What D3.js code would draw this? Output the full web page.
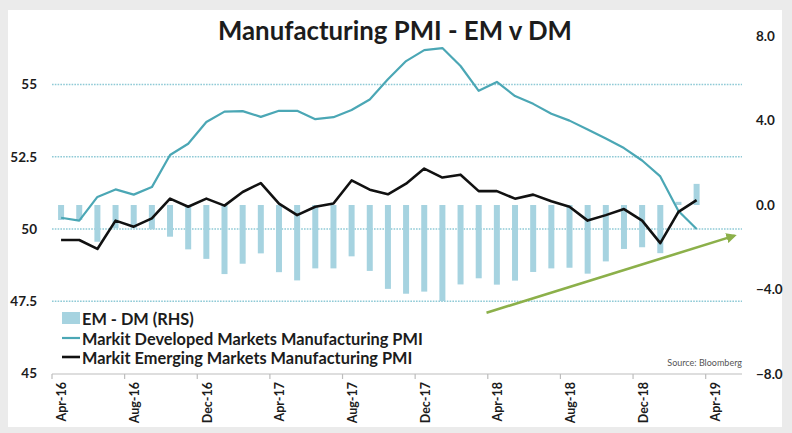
<!DOCTYPE html>
<html>
<head>
<meta charset="utf-8">
<script src="https://cdn.jsdelivr.net/npm/d3@7"></script>
<style>
  html, body { margin: 0; padding: 0; background: #ececec; }
  svg { display: block; }
  text { font-family: Lato, "Open Sans", "DejaVu Sans", sans-serif; }
</style>
</head>
<body>
<svg id="chart" width="792" height="433"></svg>
<script>
// Monthly categories on the x axis (Apr-16 .. May-19)
const months = [
  "Apr-16","May-16","Jun-16","Jul-16","Aug-16","Sep-16","Oct-16","Nov-16","Dec-16",
  "Jan-17","Feb-17","Mar-17","Apr-17","May-17","Jun-17","Jul-17","Aug-17","Sep-17",
  "Oct-17","Nov-17","Dec-17","Jan-18","Feb-18","Mar-18","Apr-18","May-18","Jun-18",
  "Jul-18","Aug-18","Sep-18","Oct-18","Nov-18","Dec-18","Jan-19","Feb-19","Mar-19",
  "Apr-19","May-19"
];
const tickMonths = ["Apr-16","Aug-16","Dec-16","Apr-17","Aug-17","Dec-17","Apr-18","Aug-18","Dec-18","Apr-19"];

// Markit Developed Markets Manufacturing PMI (Apr-16 .. Mar-19)
const dmPmi = [
  50.39, 50.29, 51.11, 51.37, 51.19, 51.45, 52.56, 52.95, 53.70, 54.06,
  54.08, 53.88, 54.09, 54.09, 53.80, 53.87, 54.12, 54.48, 55.18, 55.81,
  56.19, 56.26, 55.64, 54.78, 55.09, 54.60, 54.33, 53.99, 53.75, 53.44,
  53.13, 52.80, 52.37, 51.82, 50.62, 50.00
];
// Markit Emerging Markets Manufacturing PMI (Apr-16 .. Mar-19)
const emPmi = [
  49.62, 49.62, 49.31, 50.29, 50.08, 50.37, 51.05, 50.77, 51.05, 50.81,
  51.28, 51.59, 50.88, 50.48, 50.77, 50.88, 51.68, 51.36, 51.20, 51.57,
  52.09, 51.78, 51.88, 51.31, 51.31, 51.05, 51.19, 50.96, 50.77, 50.29,
  50.48, 50.69, 50.29, 49.51, 50.59, 51.00
];
// EM - DM spread, right-hand axis
const emMinusDm = [
  -0.71, -0.71, -1.74, -1.10, -1.10, -1.15, -1.50, -2.10, -2.55, -3.27,
  -2.78, -2.29, -3.18, -3.57, -3.00, -3.00, -2.43, -3.12, -3.97, -4.20,
  -4.10, -4.55, -3.76, -3.47, -3.77, -3.58, -3.17, -3.00, -2.97, -3.25,
  -2.67, -2.08, -2.00, -2.28, 0.15, 1.00
];

const leftTicks = [45, 47.5, 50, 52.5, 55];
const gridTicks = [47.5, 50, 52.5, 55];
const rightTicks = [-8, -4, 0, 4, 8];

// Trend arrow drawn over the spread (month position, RHS value)
const trendStart = { month: 23.93, value: -5.1 };
const trendEnd = { month: 37.6, value: -1.45 };

const legendLabels = [
  "EM - DM (RHS)",
  "Markit Developed Markets Manufacturing PMI",
  "Markit Emerging Markets Manufacturing PMI"
];

const svg = d3.select("#chart");
const W = 792, H = 433;
const plot = { left: 52, right: 742, bottom: 374 };

const colors = {
  bar: "#a6d3e0",
  dm: "#4ba7b5",
  em: "#111111",
  grid: "#8fcad6",
  axis: "#bdbdbd",
  text: "#1c1c1c",
  arrow: "#8cb04a"
};

// Backdrop and white panel
svg.append("rect").attr("width", W).attr("height", H).attr("fill", "#ebebeb");
svg.append("rect").attr("x", 8).attr("y", 10).attr("width", 774).attr("height", 417).attr("fill", "#ffffff");

// Scales
const x = d3.scaleBand().domain(months).range([plot.left, plot.right]).padding(0);
const xi = d3.scaleLinear().domain([0, months.length]).range([plot.left, plot.right]);
const yL = d3.scaleLinear().domain([45, 55]).range([373.5, 84.5]);
const yR = d3.scaleLinear().domain([-8, 8]).range([374, 36]);
const cx = m => x(m) + x.bandwidth() / 2;

// Dotted gridlines on the left axis
svg.append("g").selectAll("line").data(gridTicks).join("line")
  .attr("x1", plot.left).attr("x2", plot.right)
  .attr("y1", d => yL(d)).attr("y2", d => yL(d))
  .attr("stroke", colors.grid).attr("stroke-width", 1.6)
  .attr("stroke-dasharray", "1.6,1.2");

// Spread bars
const barW = 6;
svg.append("g").selectAll("rect").data(emMinusDm).join("rect")
  .attr("x", (d, i) => cx(months[i]) - barW / 2)
  .attr("y", d => Math.min(yR(d), yR(0)))
  .attr("width", barW)
  .attr("height", d => Math.abs(yR(d) - yR(0)))
  .attr("fill", colors.bar);

// PMI lines
const lineL = d3.line().x((d, i) => cx(months[i])).y(d => yL(d));
svg.append("path").datum(dmPmi).attr("d", lineL)
  .attr("fill", "none").attr("stroke", colors.dm).attr("stroke-width", 2.2)
  .attr("stroke-linejoin", "round");
svg.append("path").datum(emPmi).attr("d", lineL)
  .attr("fill", "none").attr("stroke", colors.em).attr("stroke-width", 2.6)
  .attr("stroke-linejoin", "round");

// Trend arrow
svg.append("defs").append("marker")
  .attr("id", "arrowHead").attr("viewBox", "0 0 10 10")
  .attr("refX", 8).attr("refY", 5)
  .attr("markerWidth", 4).attr("markerHeight", 4)
  .attr("markerUnits", "strokeWidth")
  .attr("orient", "auto")
  .append("path").attr("d", "M0,0 L10,5 L0,10 Z").attr("fill", colors.arrow);
svg.append("line")
  .attr("x1", xi(trendStart.month)).attr("y1", yR(trendStart.value))
  .attr("x2", xi(trendEnd.month)).attr("y2", yR(trendEnd.value))
  .attr("stroke", colors.arrow).attr("stroke-width", 2.6)
  .attr("marker-end", "url(#arrowHead)");

// X axis
const xAxis = d3.axisBottom(x).tickValues(tickMonths).tickSize(0).tickPadding(0);
const gx = svg.append("g").attr("transform", `translate(0,${plot.bottom})`).call(xAxis);
gx.select(".domain").remove();
gx.selectAll(".tick text")
  .attr("transform", "translate(1,8) rotate(-90)")
  .attr("text-anchor", "end")
  .attr("dy", "0.35em")
  .attr("y", 0).attr("x", 0)
  .attr("fill", colors.text)
  .style("font-size", "12.5px").style("font-weight", "700");
svg.append("line")
  .attr("x1", plot.left).attr("x2", plot.right)
  .attr("y1", plot.bottom).attr("y2", plot.bottom)
  .attr("stroke", colors.axis).attr("stroke-width", 1.2);
svg.append("g").selectAll("line").data(tickMonths).join("line")
  .attr("x1", d => x(d)).attr("x2", d => x(d))
  .attr("y1", plot.bottom).attr("y2", plot.bottom + 5)
  .attr("stroke", colors.axis).attr("stroke-width", 1.2);

// Left axis labels
const gl = svg.append("g").attr("transform", "translate(37,0)")
  .call(d3.axisLeft(yL).tickValues(leftTicks).tickSize(0).tickPadding(0).tickFormat(d3.format("")));
gl.select(".domain").remove();
gl.selectAll(".tick text").attr("fill", colors.text)
  .style("font-size", "13.5px").style("font-weight", "700");

// Right axis labels
const gr = svg.append("g").attr("transform", "translate(756,0)")
  .call(d3.axisRight(yR).tickValues(rightTicks).tickSize(0).tickPadding(0).tickFormat(d3.format(".1f")));
gr.select(".domain").remove();
gr.selectAll(".tick text").attr("fill", colors.text)
  .style("font-size", "13.5px").style("font-weight", "700");

svg.selectAll(".tick line").remove();

// Fits a text element's font size to a target width
function fitWidth(sel, width) {
  const node = sel.node();
  const size = parseFloat(sel.style("font-size"));
  const len = node.getComputedTextLength();
  sel.style("font-size", (size * width / len).toFixed(2) + "px");
}

// Title
const title = svg.append("text")
  .attr("x", 395).attr("y", 30)
  .attr("text-anchor", "middle").attr("dominant-baseline", "central")
  .attr("fill", colors.text)
  .style("font-size", "24px").style("font-weight", "700")
  .text("Manufacturing PMI - EM v DM");
fitWidth(title, 354);

// Legend
const legendY = [318, 338, 357];
const lg = svg.append("g");
lg.append("rect").attr("x", 62).attr("y", legendY[0] - 6).attr("width", 18).attr("height", 12)
  .attr("fill", colors.bar);
lg.append("line").attr("x1", 62).attr("x2", 80).attr("y1", legendY[1]).attr("y2", legendY[1])
  .attr("stroke", colors.dm).attr("stroke-width", 2.2);
lg.append("line").attr("x1", 62).attr("x2", 80).attr("y1", legendY[2]).attr("y2", legendY[2])
  .attr("stroke", colors.em).attr("stroke-width", 2.6);
const legendText = lg.selectAll("text.lab").data(legendLabels).join("text")
  .attr("class", "lab")
  .attr("x", 82).attr("y", (d, i) => legendY[i])
  .attr("dominant-baseline", "central")
  .attr("fill", colors.text)
  .style("font-size", "15px").style("font-weight", "700")
  .text(d => d);
fitWidth(d3.select(legendText.nodes()[1]), 341);
const legendSize = d3.select(legendText.nodes()[1]).style("font-size");
legendText.style("font-size", legendSize);

// Source note
svg.append("text")
  .attr("x", 742).attr("y", 362)
  .attr("text-anchor", "end").attr("dominant-baseline", "central")
  .attr("fill", "#555555")
  .style("font-size", "9px")
  .text("Source: Bloomberg");
</script>
</body>
</html>
